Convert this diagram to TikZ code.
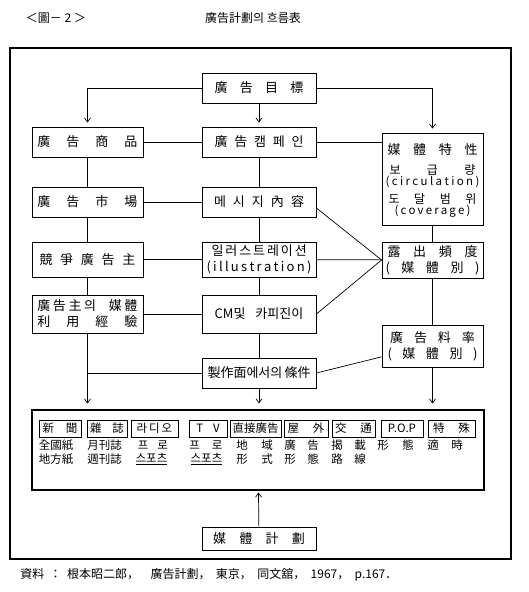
\documentclass[tikz,border=0pt]{standalone}
\usepackage{fontspec}
\setmainfont{Noto Sans CJK KR}
\usetikzlibrary{arrows.meta,positioning}
\newcommand\spr[2]{\makebox[#1][s]{#2}}
\tikzset{
  >={Straight Barb[length=4pt,width=6pt]},
  box/.style={draw, line width=0.9pt, minimum width=114pt, minimum height=30pt,
    inner sep=0pt, font=\fontsize{13}{16}\selectfont},
  mbox/.style={draw, line width=0.8pt, minimum height=17pt, inner sep=0pt,
    font=\fontsize{11.5}{13}\selectfont},
  cell/.style={inner sep=0pt, font=\fontsize{11.5}{13}\selectfont},
}

\begin{document}
\begin{tikzpicture}[
  x=1pt,y=-1pt,
  line width=0.7pt,
  arr/.style={->, shorten >=4pt},
]
\useasboundingbox (0,0) rectangle (528,592);

\node[cell, font=\fontsize{12}{14}\selectfont] (fig) at (56,18) {＜圖－ 2 ＞};
\node[cell, font=\fontsize{12}{14}\selectfont] (title) at (253,18) {廣告計劃의 흐름表};
\draw[line width=1.2pt] (10,48) rectangle (511,559);

\node[box] (goal) at (259,88) {\spr{89pt}{廣 告 目 標}};
\node[box, minimum width=111pt] (prod) at (87.5,142) {\spr{100pt}{廣 告 商 品}};
\node[box] (camp) at (259,142) {\spr{89pt}{廣 告 캠 페 인}};
\node[box, minimum width=101pt, minimum height=92pt] (media) at (432.5,179) {};
\node[cell, font=\fontsize{13}{14}\selectfont] (m1) at (432.5,150) {\spr{90pt}{媒 體 特 性}};
\node[cell, font=\fontsize{12}{14}\selectfont] (m2) at (432.5,170) {\spr{86pt}{보 급 량}};
\node[cell] (m3) at (432.5,182) {\spr{94pt}{( c i r c u l a t i o n )}};
\node[cell, font=\fontsize{12}{14}\selectfont] (m4) at (432.5,199) {\spr{88pt}{도 달 범 위}};
\node[cell] (m5) at (432.5,211) {\spr{76pt}{( c o v e r a g e )}};

\node[box, minimum width=111pt] (market) at (87.5,202) {\spr{100pt}{廣 告 市 場}};
\node[box] (msg) at (259,202) {\spr{90pt}{메 시 지 內 容}};
\node[box, minimum width=111pt, minimum height=35pt] (rival) at (87.5,259.5) {\spr{96pt}{競 爭 廣 告 主}};
\node[box, minimum height=35pt, align=center] (illu) at (259,259.5)
  {\spr{95pt}{일 러 스 트 레 이 션}\\\spr{105pt}{( i l l u s t r a t i o n )}};
\node[box, minimum width=101pt, minimum height=36pt, align=center] (freq) at (432.5,260)
  {\spr{90pt}{露 出 頻 度}\\\spr{94pt}{( 媒 體 別 )}};
\node[box, minimum width=111pt, minimum height=38pt, align=center] (exp) at (87.5,314)
  {\spr{100pt}{廣 告 主 의 \hspace{8pt} 媒 體}\\\spr{100pt}{利 用 經 驗}};
\node[box, minimum height=38pt] (cm) at (259,314) {CM및\hspace{10pt}카피진이};
\node[box, minimum width=101pt, minimum height=42pt, align=center] (rate) at (432.5,346)
  {\spr{85pt}{廣 告 料 率}\\\spr{90pt}{( 媒 體 別 )}};
\node[box] (cond) at (259,373) {\spr{103pt}{製作面에서의 條件}};

\node[box, line width=1.1pt, minimum width=452pt, minimum height=80pt] (mix) at (258,450) {};
\foreach \x/\w/\t [count=\i] in {60/42/{新\hspace{12pt}聞}, 107/40/{雜\hspace{11pt}誌},
    154.5/47/{라\,디\,오}, 208/38/{T\hspace{10pt}V}, 255.5/51/{直接廣告},
    306/44/{屋\hspace{14pt}外}, 353.5/43/{交\hspace{14pt}通}, 402/42/{P.O.P},
    451.5/47/{特\hspace{14pt}殊}}
  \node[mbox, minimum width=\w pt] (k\i) at (\x,428.5) {\t};
\node[cell] (a1) at (56,445) {全國紙};
\node[cell] (a2) at (104.5,445) {月刊誌};
\node[cell] (a3) at (153,445) {프\hspace{9pt}로};
\node[cell] (a4) at (206,445) {프\hspace{12pt}로};
\foreach \x/\t [count=\i] in {242/地, 267/域, 290/廣, 313/告, 337/揭, 360/載,
    383/形, 408/態, 433/適, 457/時}
  \node[cell] (b\i) at (\x,445) {\t};
\node[cell] (c1) at (56,459) {地方紙};
\node[cell] (c2) at (104.5,459) {週刊誌};
\node[cell] (c3) at (151.5,459) {\underline{스포츠}};
\node[cell] (c4) at (206.5,459) {\underline{스포츠}};
\foreach \x/\t [count=\i] in {242/形, 267/式, 290/形, 313/態, 337/路, 360/線}
  \node[cell] (d\i) at (\x,459) {\t};

\node[box, minimum height=23pt] (plan) at (259,538.5) {\spr{92pt}{媒 體 計 劃}};

\node[cell, anchor=west, font=\fontsize{12}{14}\selectfont] (src) at (20,575)
  {\spr{377pt}{資料 ： 根本昭二郎，\hspace{6pt} 廣告計劃， 東京， 同文舘， 1967， p.167．}};

\draw[arr] (goal.west) -| (prod.north);
\draw[arr] (goal) -- (camp);
\draw[arr] (goal.east) -| (media.north);
\draw (prod) -- (camp);
\draw (camp.east) -- (camp.east -| media.west);
\draw (prod) -- (market) -- (rival) -- (exp);
\draw (camp) -- (msg) -- (illu) -- (cm) -- (cond);
\draw (market) -- (msg);
\draw (rival) -- (illu);
\draw (exp) -- (cm);
\draw (msg.-6) -- (freq.west);
\draw (illu) -- (freq);
\draw (cm.east) -- (freq.west);
\draw (media) -- (freq) -- (rate);
\draw (cond.east) -- (rate.192);
\draw (cond.west) -- (cond.west -| exp.south);
\draw[arr, shorten >=6pt] (exp.south) -- (exp.south |- mix.north);
\draw[arr, shorten >=6pt] (cond.south) -- (cond.south |- mix.north);
\draw[arr, shorten >=6pt] (rate.south) -- (rate.south |- mix.north);
\draw[arr, shorten >=2pt] (plan) -- (mix);
\end{tikzpicture}
\end{document}
